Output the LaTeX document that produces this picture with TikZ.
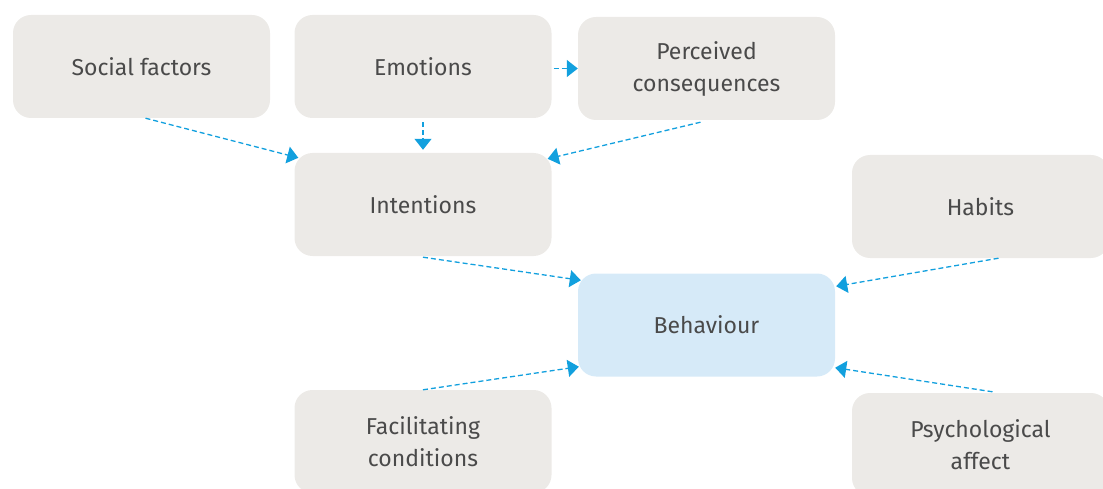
\documentclass[tikz,border=0pt]{standalone}
\usepackage{fontspec}
\setmainfont{Fira Sans}
\usetikzlibrary{arrows.meta}
\definecolor{boxgrey}{HTML}{ECEAE7}
\definecolor{boxblue}{HTML}{D6EAF8}
\definecolor{linkblue}{HTML}{12A0DE}
\definecolor{txtgrey}{HTML}{4A4A4A}
\begin{document}
\begin{tikzpicture}[x=1pt,y=-1pt,
  factor/.style={rectangle,rounded corners=18pt,fill=boxgrey,minimum width=257pt,minimum height=103pt,
    align=center,text=txtgrey,font=\fontsize{23}{32}\selectfont,inner sep=0pt},
  target/.style={factor,fill=boxblue},
  link/.style={draw=linkblue,line width=1.3pt,dash pattern=on 5pt off 3pt,-{Triangle[length=11pt,width=17pt]}}]
\useasboundingbox (0,0) rectangle (1103,489);
\clip (0,0) rectangle (1103,489);
\node at (141.5,66.5) [factor] (social) {Social factors};
\node at (423,66.5) [factor] (emotions) {Emotions};
\node at (706.5,68.5) [factor] (consequences) {Perceived\\consequences};
\node at (423,204.5) [factor] (intentions) {Intentions};
\node at (980.5,206.5) [factor] (habits) {Habits};
\node at (706.5,325) [target] (behaviour) {Behaviour};
\node at (423,441.5) [factor] (conditions) {Facilitating\\conditions};
\node at (980.5,444.5) [factor] (affect) {Psychological\\affect};
\draw[link] ([xshift=4pt]social.south) -- ([xshift=4pt,yshift=-5pt]intentions.north west);
\draw[link,shorten <=4pt,shorten >=3pt] (emotions.south) -- (intentions.north);
\draw[link,shorten <=2pt] ([yshift=-2pt]emotions.east) -- (consequences.west);
\draw[link] ([xshift=-6pt,yshift=-2pt]consequences.south) -- ([xshift=-4pt,yshift=-6pt]intentions.north east);
\draw[link] ([yshift=-1pt]intentions.south) -- ([xshift=3pt,yshift=-7pt]behaviour.north west);
\draw[link] (conditions.north) -- ([xshift=1pt,yshift=10pt]behaviour.south west);
\draw[link] ([xshift=18pt]habits.south) -- ([xshift=1pt,yshift=-13pt]behaviour.north east);
\draw[link] ([xshift=12pt,yshift=1pt]affect.north) -- ([yshift=9pt]behaviour.south east);
\end{tikzpicture}
\end{document}
